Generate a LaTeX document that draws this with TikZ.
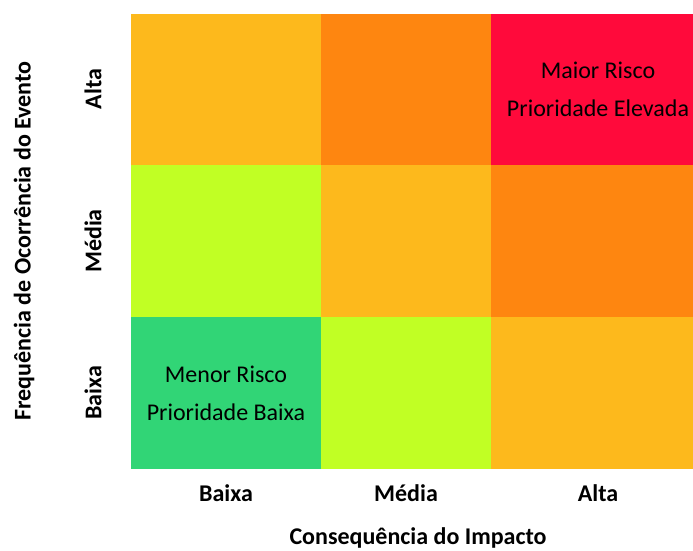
\documentclass[tikz,border=0pt]{standalone}
\usepackage{fontspec}
\setmainfont{Carlito}
\definecolor{cyel}{HTML}{FDB91C}
\definecolor{cora}{HTML}{FE8610}
\definecolor{cred}{HTML}{FF0A3B}
\definecolor{clime}{HTML}{C1FF24}
\definecolor{cgrn}{HTML}{31D576}
\begin{document}
\begin{tikzpicture}[x=1pt,y=-1pt,
  celltxt/.style={align=center,font=\fontsize{24}{38}\selectfont},
  axlab/.style={font=\fontsize{24}{26}\selectfont\bfseries},
  axtitle/.style={inner sep=1pt,font=\fontsize{24}{26}\selectfont\bfseries}]
\useasboundingbox (0,0) rectangle (693,551);
% cells
\fill[cyel]  (131,14) rectangle (321,165);
\fill[cora]  (321,14) rectangle (491,165);
\fill[cred]  (491,14) rectangle (693,165);
\fill[clime] (131,165) rectangle (321,317);
\fill[cyel]  (321,165) rectangle (491,317);
\fill[cora]  (491,165) rectangle (693,317);
\fill[cgrn]  (131,317) rectangle (321,469);
\fill[clime] (321,317) rectangle (491,469);
\fill[cyel]  (491,317) rectangle (693,469);
\node[celltxt] (hi) at (598,89) {Maior Risco\\Prioridade Elevada};
\node[celltxt] (lo) at (226,393) {Menor Risco\\Prioridade Baixa};
% x labels
\node[axlab] (xb) at (226,493) {Baixa};
\node[axlab] (xm) at (406,493) {Média};
\node[axlab] (xa) at (598,493) {Alta};
\node[axtitle] (xt) at (418,538) {Consequência do Impacto};
% y labels
\node[axlab,rotate=90] (ya) at (93,89) {Alta};
\node[axlab,rotate=90] (ym) at (93,241) {Média};
\node[axlab,rotate=90] (yb) at (93,393) {Baixa};
\node[axtitle,rotate=90] (yt) at (24,241) {Frequência de Ocorrência do Evento};
\end{tikzpicture}
\end{document}
